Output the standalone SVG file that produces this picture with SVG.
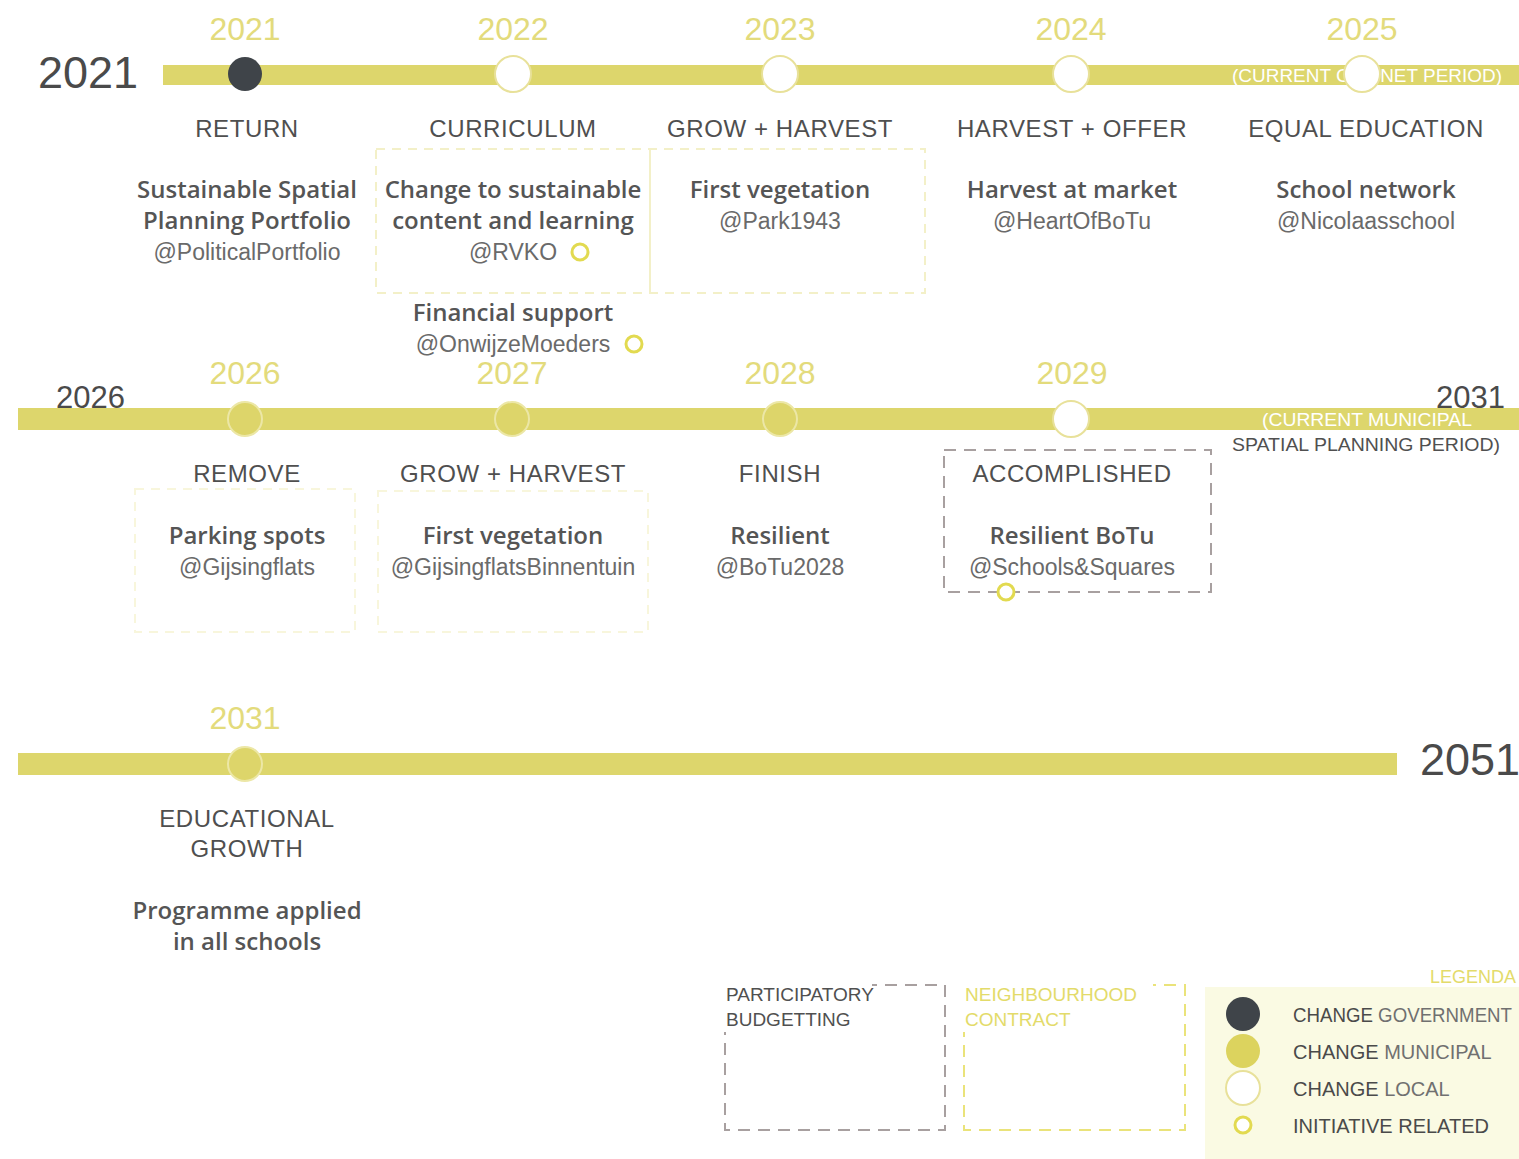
<svg xmlns="http://www.w3.org/2000/svg" width="1519" height="1159" viewBox="0 0 1519 1159">
<style>
text{font-family:"Liberation Sans",Arial,sans-serif}
.yr{fill:#e3db7c;font-size:32px;text-anchor:middle}
.big{fill:#4a4a4a;font-size:45px}
.mid{fill:#4a4a4a;font-size:31px}
.ttl{fill:#4f4f4f;font-size:24px;text-anchor:middle;letter-spacing:0.6px}
.b1{fill:#555;font-size:24px;text-anchor:middle;font-family:"Open Sans","Liberation Sans",sans-serif;font-weight:600}
.b2{fill:#6a6a6a;font-size:23px;text-anchor:middle}
.bar{fill:#ddd66c}
.ng{fill:#3f4449}
.nm{fill:#ddd56a;stroke:#ece7a6;stroke-width:2}
.nl{fill:#fff;stroke:#e8e19a;stroke-width:2}
.ini{fill:#fff;stroke:#e2da50;stroke-width:3}
.fbox{fill:none;stroke:#f3f0c8;stroke-width:2;stroke-dasharray:9 7}
.fbox2{fill:none;stroke:#f8f6dc;stroke-width:2;stroke-dasharray:9 7}
.gbox{fill:none;stroke:#a8a0a0;stroke-width:2;stroke-dasharray:12 8}
.ybox{fill:none;stroke:#eae37a;stroke-width:2;stroke-dasharray:12 8}
.lg{font-size:20px;fill:#4a4a4a}
.lgl{fill:#707070}
.wt{fill:#fff;font-size:18px}
</style>
<rect width="1519" height="1159" fill="#fff"/>

<g id="timelines">
<rect class="bar" x="163" y="65" width="1356" height="20"/>
<rect class="bar" x="18" y="408" width="1501" height="22"/>
<rect class="bar" x="18" y="753" width="1379" height="22"/>
<text class="big" x="38" y="88">2021</text>
<text class="mid" x="56" y="408">2026</text>
<text class="mid" x="1436" y="408">2031</text>
<text class="big" x="1420" y="775">2051</text>
<text class="wt" x="1367" y="82" text-anchor="middle" textLength="270" lengthAdjust="spacingAndGlyphs">(CURRENT CABINET PERIOD)</text>
<text class="wt" x="1367" y="426" text-anchor="middle" textLength="210" lengthAdjust="spacingAndGlyphs" font-size="19">(CURRENT MUNICIPAL</text>
<text x="1366" y="451" text-anchor="middle" fill="#505050" font-size="19" textLength="268" lengthAdjust="spacingAndGlyphs">SPATIAL PLANNING PERIOD)</text>
</g>

<g id="frames">
<rect class="fbox" x="376" y="149" width="549" height="144"/>
<line x1="650" y1="149" x2="650" y2="293" stroke="#f3f0c8" stroke-width="2"/>
<rect class="fbox2" x="135" y="489" width="220" height="143"/>
<rect class="fbox2" x="378" y="491" width="270" height="141"/>
</g>

<g id="n2021">
<text class="yr" x="245" y="40">2021</text>
<circle class="ng" cx="245" cy="74" r="17"/>
<text class="ttl" x="247" y="137">RETURN</text>
<text class="b1" x="247" y="198">Sustainable Spatial</text>
<text class="b1" x="247" y="229">Planning Portfolio</text>
<text class="b2" x="247" y="260">@PoliticalPortfolio</text>
</g>

<g id="n2022">
<text class="yr" x="513" y="40">2022</text>
<circle class="nl" cx="513" cy="74" r="18"/>
<text class="ttl" x="513" y="137">CURRICULUM</text>
<text class="b1" x="513" y="198">Change to sustainable</text>
<text class="b1" x="513" y="229">content and learning</text>
<text class="b2" x="513" y="260">@RVKO</text>
<circle class="ini" cx="580" cy="252" r="8"/>
<text class="b1" x="513" y="321">Financial support</text>
<text class="b2" x="513" y="352">@OnwijzeMoeders</text>
<circle class="ini" cx="634" cy="344" r="8"/>
</g>

<g id="n2023">
<text class="yr" x="780" y="40">2023</text>
<circle class="nl" cx="780" cy="74" r="18"/>
<text class="ttl" x="780" y="137">GROW + HARVEST</text>
<text class="b1" x="780" y="198">First vegetation</text>
<text class="b2" x="780" y="229">@Park1943</text>
</g>

<g id="n2024">
<text class="yr" x="1071" y="40">2024</text>
<circle class="nl" cx="1071" cy="74" r="18"/>
<text class="ttl" x="1072" y="137">HARVEST + OFFER</text>
<text class="b1" x="1072" y="198">Harvest at market</text>
<text class="b2" x="1072" y="229">@HeartOfBoTu</text>
</g>

<g id="n2025">
<text class="yr" x="1362" y="40">2025</text>
<circle class="nl" cx="1362" cy="74" r="18"/>
<text class="ttl" x="1366" y="137">EQUAL EDUCATION</text>
<text class="b1" x="1366" y="198">School network</text>
<text class="b2" x="1366" y="229">@Nicolaasschool</text>
</g>

<g id="n2026">
<text class="yr" x="245" y="384">2026</text>
<circle class="nm" cx="245" cy="419" r="17"/>
<text class="ttl" x="247" y="482">REMOVE</text>
<text class="b1" x="247" y="544">Parking spots</text>
<text class="b2" x="247" y="575">@Gijsingflats</text>
</g>

<g id="n2027">
<text class="yr" x="512" y="384">2027</text>
<circle class="nm" cx="512" cy="419" r="17"/>
<text class="ttl" x="513" y="482">GROW + HARVEST</text>
<text class="b1" x="513" y="544">First vegetation</text>
<text class="b2" x="513" y="575">@GijsingflatsBinnentuin</text>
</g>

<g id="n2028">
<text class="yr" x="780" y="384">2028</text>
<circle class="nm" cx="780" cy="419" r="17"/>
<text class="ttl" x="780" y="482">FINISH</text>
<text class="b1" x="780" y="544">Resilient</text>
<text class="b2" x="780" y="575">@BoTu2028</text>
</g>

<g id="n2029">
<text class="yr" x="1072" y="384">2029</text>
<circle class="nl" cx="1071" cy="419" r="18"/>
<rect class="gbox" x="944" y="450" width="267" height="142"/>
<text class="ttl" x="1072" y="482">ACCOMPLISHED</text>
<text class="b1" x="1072" y="544">Resilient BoTu</text>
<text class="b2" x="1072" y="575">@Schools&amp;Squares</text>
<circle class="ini" cx="1006" cy="592" r="8"/>
</g>

<g id="n2031">
<text class="yr" x="245" y="729">2031</text>
<circle class="nm" cx="245" cy="764" r="17"/>
<text class="ttl" x="247" y="827">EDUCATIONAL</text>
<text class="ttl" x="247" y="857">GROWTH</text>
<text class="b1" x="247" y="919">Programme applied</text>
<text class="b1" x="247" y="950">in all schools</text>
</g>

<g id="participatory">
<rect class="gbox" x="725" y="985" width="220" height="145"/>
<rect x="724" y="982" width="148" height="50" fill="#fff"/>
<text x="726" y="1001" font-size="19" fill="#505050">PARTICIPATORY</text>
<text x="726" y="1026" font-size="19" fill="#505050">BUDGETTING</text>
</g>

<g id="neighbourhood">
<rect class="ybox" x="964" y="985" width="221" height="145"/>
<rect x="963" y="982" width="190" height="50" fill="#fff"/>
<text x="965" y="1001" font-size="19" fill="#e3db6a">NEIGHBOURHOOD</text>
<text x="965" y="1026" font-size="19" fill="#e3db6a">CONTRACT</text>
</g>

<g id="legend">
<rect x="1205" y="987" width="314" height="172" fill="#fafae3"/>
<text x="1430" y="983" font-size="18" fill="#e3db6a">LEGENDA</text>
<circle class="ng" cx="1243" cy="1014" r="17"/>
<circle cx="1243" cy="1051" r="17" fill="#dcd35e"/>
<circle class="nl" cx="1243" cy="1088" r="17"/>
<circle class="ini" cx="1243" cy="1125" r="8"/>
<text class="lg" x="1293" y="1022" textLength="219" lengthAdjust="spacingAndGlyphs">CHANGE <tspan class="lgl">GOVERNMENT</tspan></text>
<text class="lg" x="1293" y="1059">CHANGE <tspan class="lgl">MUNICIPAL</tspan></text>
<text class="lg" x="1293" y="1096">CHANGE <tspan class="lgl">LOCAL</tspan></text>
<text class="lg" x="1293" y="1133">INITIATIVE RELATED</text>
</g>
</svg>
